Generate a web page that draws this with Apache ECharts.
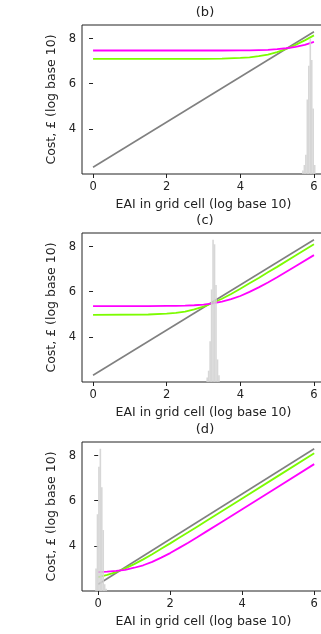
<!DOCTYPE html>
<html>
<head>
<meta charset="utf-8">
<script src="https://cdn.jsdelivr.net/npm/echarts@6/dist/echarts.min.js"></script>
<style>
  html, body { margin: 0; padding: 0; background: #fff; }
  #chart { width: 321px; height: 634px; }
</style>
</head>
<body>
<div id="chart"></div>
<script>
// tick labels
const xTicks = [0, 2, 4, 6];
const yTicks = [4, 6, 8];

// grey reference line (same in every panel)
const greyX = [0, 6];
const greyY = [2.3, 8.3];

// panel (b)
const bLineX = [0, 3, 3.5, 4, 4.25, 4.5, 4.75, 5, 5.25, 5.5, 5.75, 6];
const bGreen = [7.10, 7.10, 7.11, 7.14, 7.17, 7.22, 7.29, 7.40, 7.54, 7.72, 7.92, 8.14];
const bMagenta = [7.47, 7.47, 7.47, 7.48, 7.48, 7.49, 7.50, 7.53, 7.57, 7.63, 7.72, 7.85];
const bHistX = [5.70, 5.74, 5.78, 5.82, 5.86, 5.90, 5.94, 5.98, 6.02];
const bHistY = [2.15, 2.4, 2.85, 5.3, 6.8, 8.0, 7.05, 4.9, 2.4];

// panel (c)
const cLineX = [0, 1.5, 2, 2.25, 2.5, 2.75, 3, 3.25, 3.5, 3.75, 4, 4.25, 4.5, 4.75, 5, 5.5, 6];
const cGreen = [4.97, 4.99, 5.03, 5.06, 5.12, 5.22, 5.34, 5.50, 5.69, 5.90, 6.13, 6.37, 6.61, 6.86, 7.10, 7.60, 8.10];
const cMagenta = [5.36, 5.36, 5.37, 5.37, 5.38, 5.40, 5.43, 5.48, 5.56, 5.67, 5.81, 5.99, 6.19, 6.41, 6.64, 7.13, 7.62];
const cHistX = [3.10, 3.14, 3.18, 3.22, 3.26, 3.30, 3.34, 3.38, 3.42];
const cHistY = [2.2, 2.5, 3.8, 6.1, 8.3, 8.1, 6.3, 3.0, 2.3];

// panel (d)
const dLineX = [0, 0.25, 0.5, 0.75, 1, 1.25, 1.5, 1.75, 2, 2.25, 2.5, 2.75, 3, 3.5, 4, 5, 6];
const dGreen = [2.62, 2.71, 2.84, 3.00, 3.19, 3.40, 3.63, 3.87, 4.11, 4.36, 4.60, 4.85, 5.10, 5.60, 6.10, 7.10, 8.10];
const dMagenta = [2.84, 2.86, 2.89, 2.94, 3.03, 3.14, 3.29, 3.48, 3.68, 3.91, 4.14, 4.38, 4.63, 5.12, 5.62, 6.62, 7.62];
const dHistX = [-0.06, -0.02, 0.02, 0.06, 0.10, 0.14, 0.18, 0.22];
const dHistY = [3.0, 5.4, 7.5, 8.3, 6.6, 4.7, 2.3, 2.1];

const titles = ["(b)", "(c)", "(d)"];
const xMins = [-0.3, -0.3, -0.45];

const font = "DejaVu Sans";
const ink = "#222";

const panels = [
  { lx: bLineX, green: bGreen, magenta: bMagenta, hx: bHistX, hy: bHistY },
  { lx: cLineX, green: cGreen, magenta: cMagenta, hx: cHistX, hy: cHistY },
  { lx: dLineX, green: dGreen, magenta: dMagenta, hx: dHistX, hy: dHistY },
];

const gridTops = [25, 233, 442];
const gridH = 149;
const zip = (xs, ys) => xs.map((x, i) => [x, ys[i]]);

const chart = echarts.init(document.getElementById("chart"), null, { renderer: "canvas" });

const option = {
  animation: false,
  backgroundColor: "#fff",
  grid: gridTops.map((top) => ({
    left: 82,
    top: top,
    width: 243,
    height: gridH,
    outerBoundsMode: "none",
    containLabel: false,
    show: true,
    borderColor: ink,
    borderWidth: 1,
    backgroundColor: "transparent",
  })),
  graphic: titles.map((t, i) => ({
    type: "text",
    x: 205,
    y: gridTops[i] - 12,
    style: {
      text: t,
      fill: ink,
      font: "13px " + font,
      align: "center",
      verticalAlign: "middle",
    },
  })),
  xAxis: panels.map((p, i) => ({
    gridIndex: i,
    type: "value",
    min: xMins[i],
    max: 6.3,
    name: "EAI in grid cell (log base 10)",
    nameLocation: "middle",
    nameGap: 24,
    nameTextStyle: { color: ink, fontSize: 12.5, fontFamily: font },
    axisLine: { show: false },
    axisTick: { show: true, customValues: xTicks, length: 4, lineStyle: { color: ink } },
    axisLabel: { customValues: xTicks, margin: 7, color: ink, fontSize: 11.5, fontFamily: font },
    splitLine: { show: false },
  })),
  yAxis: panels.map((p, i) => ({
    gridIndex: i,
    type: "value",
    min: 2,
    max: 8.6,
    name: "Cost, £ (log base 10)",
    nameLocation: "middle",
    nameGap: 22,
    nameTextStyle: { color: ink, fontSize: 12.5, fontFamily: font },
    axisLine: { show: false },
    axisTick: { show: true, customValues: yTicks, length: 4, lineStyle: { color: ink } },
    axisLabel: { customValues: yTicks, margin: 6, color: ink, fontSize: 11.5, fontFamily: font },
    splitLine: { show: false },
  })),
  series: panels.flatMap((p, i) => [
    {
      type: "line",
      xAxisIndex: i,
      yAxisIndex: i,
      data: zip(greyX, greyY),
      showSymbol: false,
      lineStyle: { color: "#808080", width: 1.6 },
      z: 2,
    },
    {
      type: "line",
      xAxisIndex: i,
      yAxisIndex: i,
      data: zip(p.lx, p.green),
      showSymbol: false,
      lineStyle: { color: "#7cfc00", width: 1.8 },
      z: 3,
    },
    {
      type: "line",
      xAxisIndex: i,
      yAxisIndex: i,
      data: zip(p.lx, p.magenta),
      showSymbol: false,
      lineStyle: { color: "#ff00ff", width: 1.8 },
      z: 4,
    },
    {
      type: "bar",
      xAxisIndex: i,
      yAxisIndex: i,
      data: zip(p.hx, p.hy),
      barWidth: 1.6,
      itemStyle: { color: "#d3d3d3", opacity: 0.9 },
      z: 5,
    },
  ]),
};

chart.setOption(option);
window.addEventListener("resize", () => chart.resize());
</script>
</body>
</html>
